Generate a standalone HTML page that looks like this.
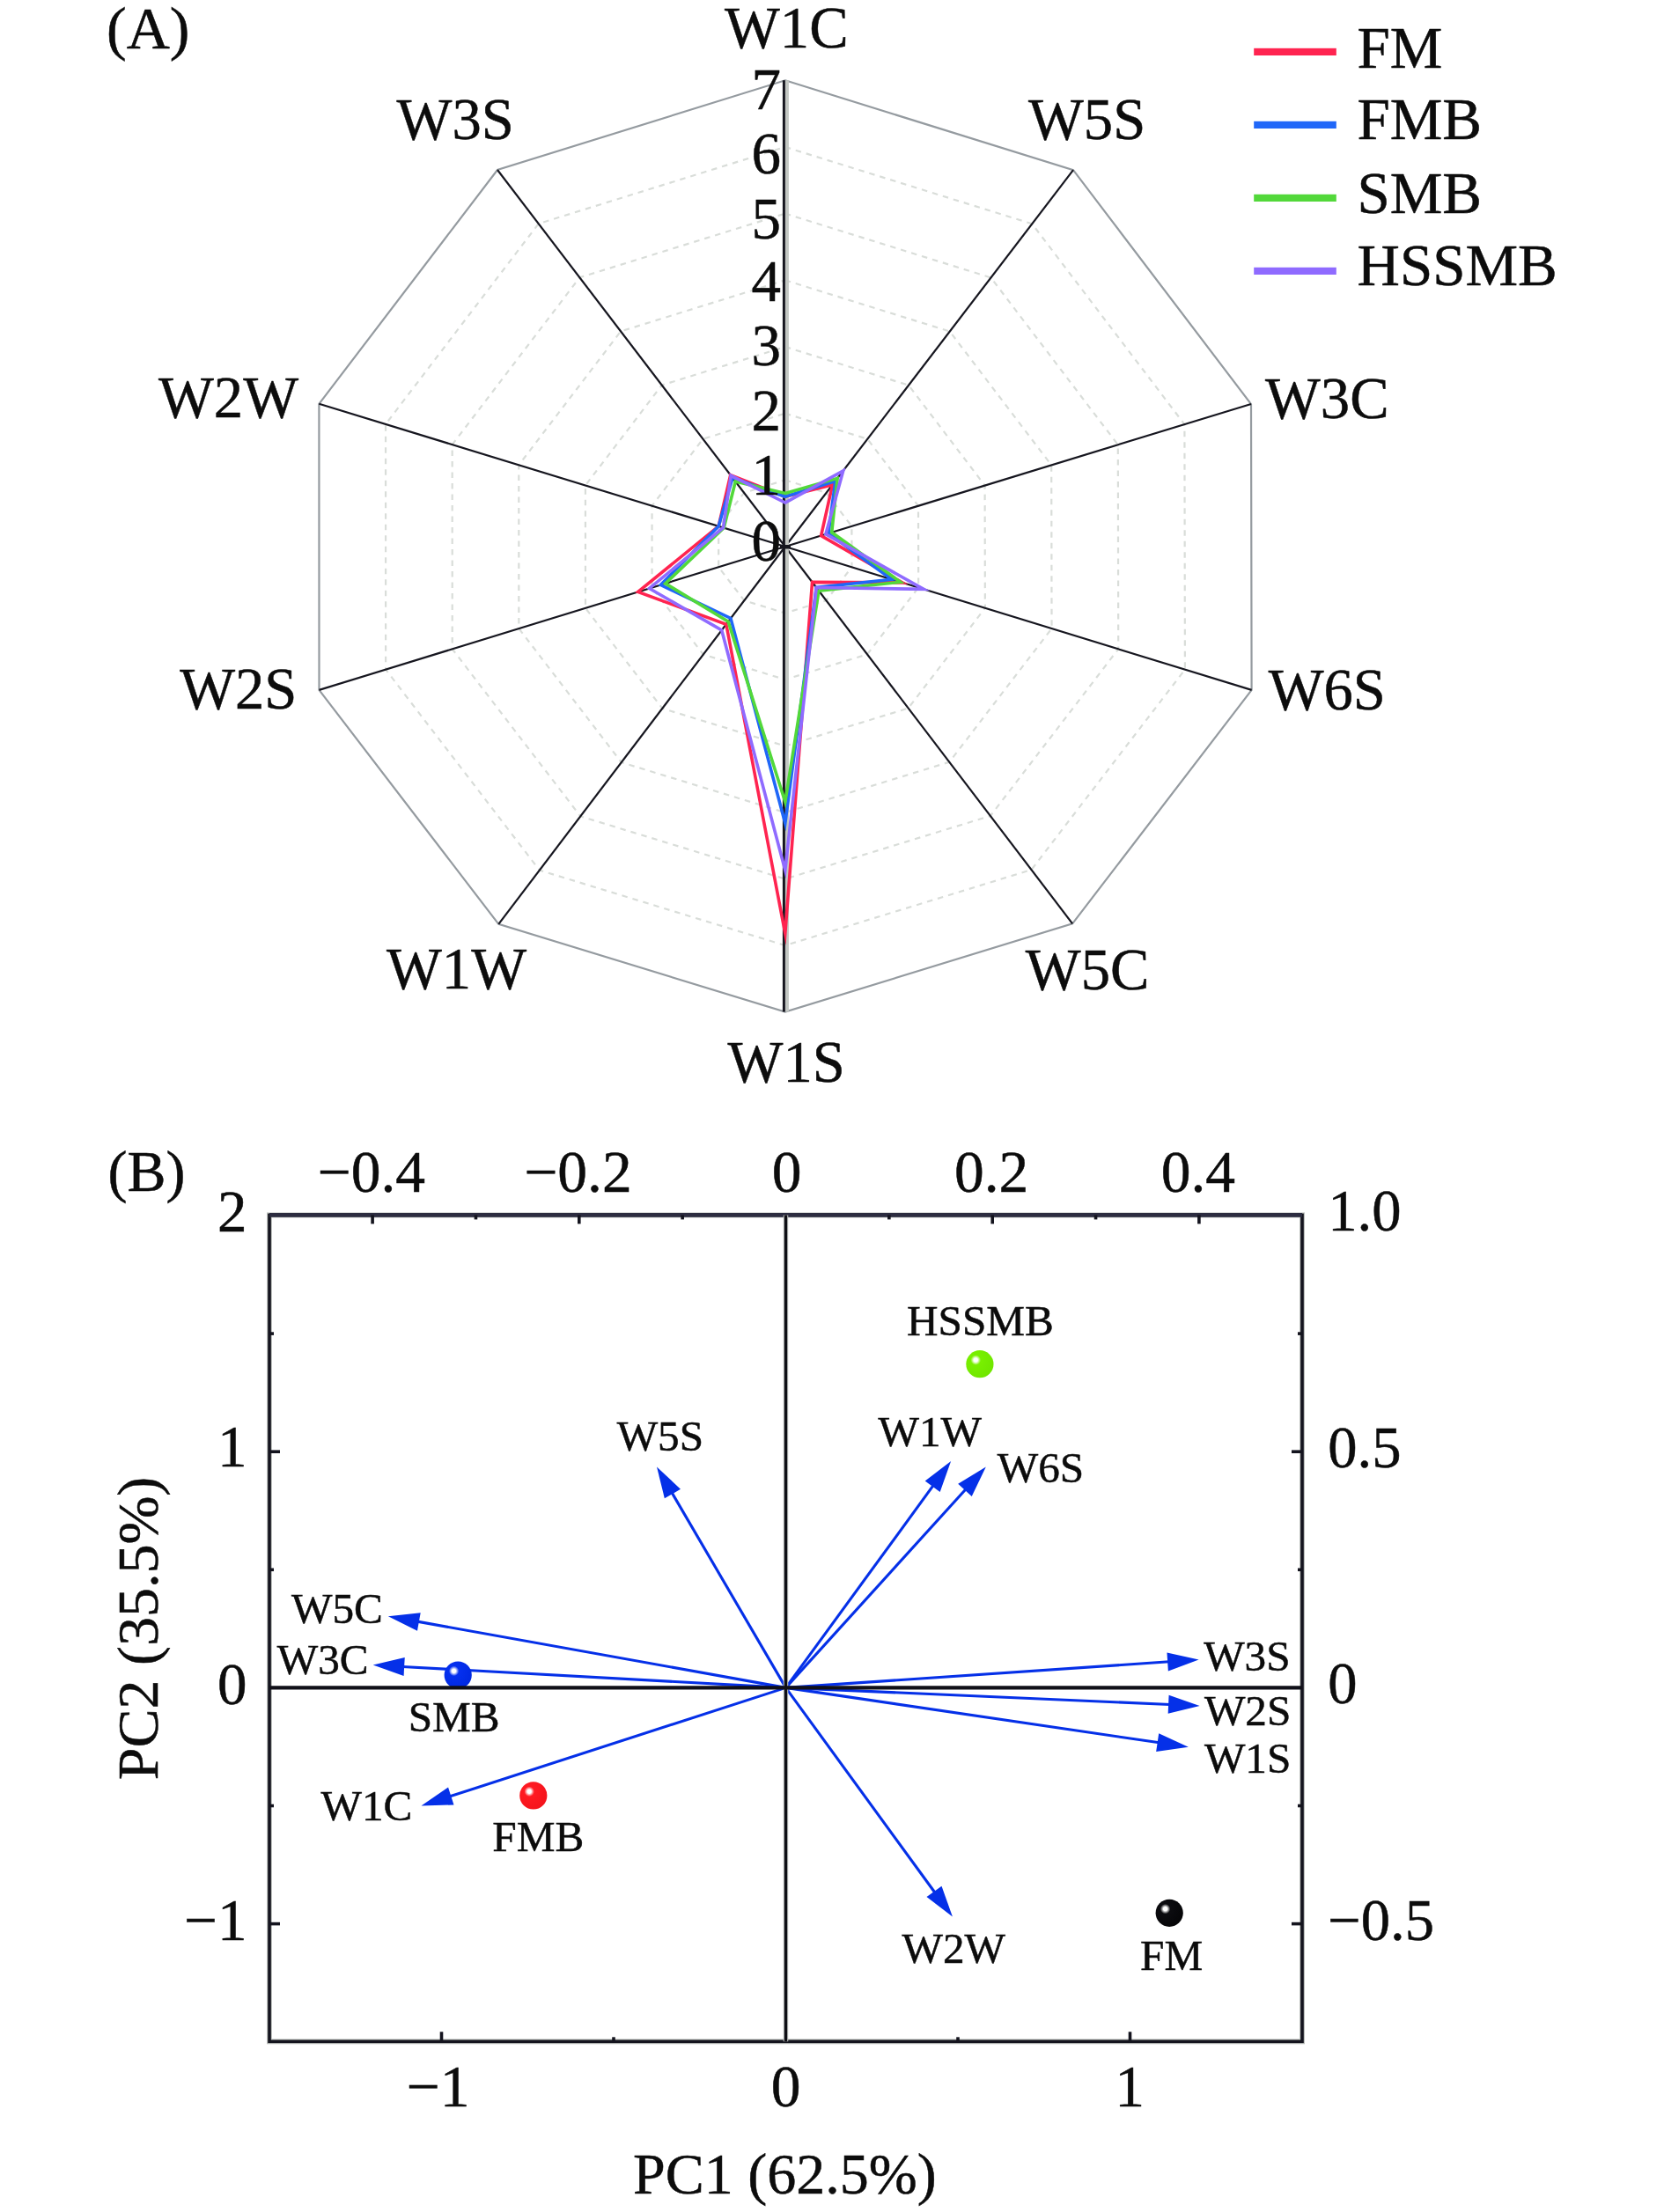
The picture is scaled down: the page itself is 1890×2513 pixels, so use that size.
<!DOCTYPE html>
<html><head><meta charset="utf-8"><title>Figure</title>
<style>html,body{margin:0;padding:0;background:#fff;overflow:hidden;}svg{display:block;}</style>
</head><body>
<svg width="1890" height="2513" viewBox="0 0 1890 2513">
<rect width="1890" height="2513" fill="#ffffff"/>
<g fill="none" stroke="#d9ddd9" stroke-width="2.2" stroke-dasharray="6.5 6">
<polygon points="891.8,545.33 938.54,559.89 967.4,597.86 967.49,644.27 938.41,682.19 891.8,696.51 845.3,682.27 816.19,644.27 816.17,597.83 845.11,559.86"/>
<polygon points="891.8,469.66 985.29,498.77 1043,574.71 1043.17,667.54 985.03,743.37 891.8,772.03 798.8,743.54 740.57,667.54 740.54,574.66 798.43,498.71"/>
<polygon points="891.8,393.99 1032.03,437.66 1118.6,551.57 1118.86,690.81 1031.64,804.56 891.8,847.54 752.3,804.81 664.96,690.81 664.91,551.49 751.74,437.57"/>
<polygon points="891.8,318.31 1078.77,376.54 1194.2,528.43 1194.54,714.09 1078.26,865.74 891.8,923.06 705.8,866.09 589.34,714.09 589.29,528.31 705.06,376.43"/>
<polygon points="891.8,242.64 1125.51,315.43 1269.8,505.29 1270.23,737.36 1124.87,926.93 891.8,998.57 659.3,927.36 513.73,737.36 513.66,505.14 658.37,315.29"/>
<polygon points="891.8,166.97 1172.26,254.31 1345.4,482.14 1345.91,760.63 1171.49,988.11 891.8,1074.09 612.8,988.63 438.11,760.63 438.03,481.97 611.69,254.14"/>
</g>
<polygon points="891.8,91.3 1219,193.2 1421,459 1421.6,783.9 1218.1,1049.3 891.8,1149.6 566.3,1049.9 362.5,783.9 362.4,458.8 565,193" fill="none" stroke="#959ba0" stroke-width="2.2"/>
<g stroke="#16161f" stroke-width="2.2">
<line x1="891.8" y1="621" x2="1219" y2="193.2"/>
<line x1="891.8" y1="621" x2="1421" y2="459"/>
<line x1="891.8" y1="621" x2="1421.6" y2="783.9"/>
<line x1="891.8" y1="621" x2="1218.1" y2="1049.3"/>
<line x1="891.8" y1="621" x2="566.3" y2="1049.9"/>
<line x1="891.8" y1="621" x2="362.5" y2="783.9"/>
<line x1="891.8" y1="621" x2="362.4" y2="458.8"/>
<line x1="891.8" y1="621" x2="565" y2="193"/>
</g>
<line x1="893.9" y1="91.3" x2="893.9" y2="1149.6" stroke="#c3c7c3" stroke-width="4"/>
<line x1="890.4" y1="91.3" x2="890.4" y2="1149.6" stroke="#16161f" stroke-width="3"/>
<rect x="886" y="619" width="12" height="4.5" fill="#16161f"/>
<polygon points="891.8,564.25 945.55,550.72 932.62,608.5 1025.01,661.96 922.57,661.38 891.8,1060.49 824.84,709.23 724.69,672.43 816.17,597.83 829.71,539.68" fill="none" stroke="#ff2450" stroke-width="3.6" stroke-linejoin="miter" stroke-miterlimit="10"/>
<polygon points="891.8,564.25 948.83,546.44 940.94,605.96 1012.9,658.23 927.23,667.5 891.8,935.14 829.95,702.49 750.4,664.52 816.17,597.83 832.04,542.74" fill="none" stroke="#2067f8" stroke-width="3.6" stroke-linejoin="miter" stroke-miterlimit="10"/>
<polygon points="891.8,560.46 951.16,543.38 944.72,604.8 1022.74,661.26 930.02,671.17 891.8,910.97 827.16,706.17 755.69,662.89 822.22,599.68 835.31,547.02" fill="none" stroke="#52d83a" stroke-width="3.6" stroke-linejoin="miter" stroke-miterlimit="10"/>
<polygon points="891.8,571.06 957.71,534.83 937.92,606.88 1049.23,669.4 927.23,667.5 891.8,988.75 819.72,715.97 737.55,668.47 821.47,599.45 830.17,540.29" fill="none" stroke="#8f6bff" stroke-width="3.6" stroke-linejoin="miter" stroke-miterlimit="10"/>
<g font-family='"Liberation Serif", "Times New Roman", serif' fill="#0c0c0c" stroke="#0c0c0c" stroke-width="0.5">
<text x="121" y="55" font-size="68">(A)</text>
<text x="823" y="53.5" font-size="66.6">W1C</text>
<text x="1168" y="157.5" font-size="66.6">W5S</text>
<text x="1437" y="474.5" font-size="66.6">W3C</text>
<text x="1440.7" y="805.5" font-size="66.6">W6S</text>
<text x="1164.8" y="1123.5" font-size="66.6">W5C</text>
<text x="826.6" y="1229" font-size="66.6">W1S</text>
<text x="439" y="1122.5" font-size="66.6">W1W</text>
<text x="204.2" y="805.3" font-size="66.6">W2S</text>
<text x="180" y="474.3" font-size="66.6">W2W</text>
<text x="450.6" y="157.5" font-size="66.6">W3S</text>
<text x="887" y="123.5" font-size="67" text-anchor="end">7</text>
<text x="887" y="196.5" font-size="67" text-anchor="end">6</text>
<text x="887" y="270.5" font-size="67" text-anchor="end">5</text>
<text x="887" y="342" font-size="67" text-anchor="end">4</text>
<text x="887" y="414.5" font-size="67" text-anchor="end">3</text>
<text x="887" y="488.5" font-size="67" text-anchor="end">2</text>
<text x="887" y="561.5" font-size="67" text-anchor="end">1</text>
<text x="887" y="637" font-size="67" text-anchor="end">0</text>
</g>
<rect x="1424.2" y="54.8" width="93.6" height="8.2" fill="#ff2450"/>
<text x="1541.5" y="77.1" font-family='"Liberation Serif", "Times New Roman", serif' font-size="67" fill="#0c0c0c" stroke="#0c0c0c" stroke-width="0.5">FM</text>
<rect x="1424.2" y="137.8" width="93.6" height="8.2" fill="#2067f8"/>
<text x="1541.5" y="158.2" font-family='"Liberation Serif", "Times New Roman", serif' font-size="67" fill="#0c0c0c" stroke="#0c0c0c" stroke-width="0.5">FMB</text>
<rect x="1424.2" y="220.8" width="93.6" height="8.2" fill="#52d83a"/>
<text x="1541.5" y="241.5" font-family='"Liberation Serif", "Times New Roman", serif' font-size="67" fill="#0c0c0c" stroke="#0c0c0c" stroke-width="0.5">SMB</text>
<rect x="1424.2" y="303.8" width="93.6" height="8.2" fill="#8f6bff"/>
<text x="1541.5" y="324.4" font-family='"Liberation Serif", "Times New Roman", serif' font-size="67" fill="#0c0c0c" stroke="#0c0c0c" stroke-width="0.5">HSSMB</text>
<rect x="306" y="1380.4" width="1173" height="938.9" fill="none" stroke="#c0c4c0" stroke-width="6"/>
<rect x="306" y="1380.4" width="1173" height="938.9" fill="none" stroke="#14141e" stroke-width="3.6"/>
<line x1="306" y1="1380.4" x2="1479" y2="1380.4" stroke="#2c2c40" stroke-width="4.6"/>
<g stroke="#14141e" stroke-width="3.6">
<line x1="501.5" y1="2319.3" x2="501.5" y2="2308.3"/>
<line x1="1283.5" y1="2319.3" x2="1283.5" y2="2308.3"/>
<line x1="697" y1="2319.3" x2="697" y2="2314.3"/>
<line x1="1088" y1="2319.3" x2="1088" y2="2314.3"/>
<line x1="423.1" y1="1380.4" x2="423.1" y2="1390.4"/>
<line x1="657.8" y1="1380.4" x2="657.8" y2="1390.4"/>
<line x1="1127.2" y1="1380.4" x2="1127.2" y2="1390.4"/>
<line x1="1361.9" y1="1380.4" x2="1361.9" y2="1390.4"/>
<line x1="540.45" y1="1380.4" x2="540.45" y2="1385.4"/>
<line x1="775.15" y1="1380.4" x2="775.15" y2="1385.4"/>
<line x1="1009.85" y1="1380.4" x2="1009.85" y2="1385.4"/>
<line x1="1244.55" y1="1380.4" x2="1244.55" y2="1385.4"/>
<line x1="306" y1="1649.2" x2="318" y2="1649.2"/>
<line x1="306" y1="2185.6" x2="318" y2="2185.6"/>
<line x1="306" y1="1515.1" x2="311" y2="1515.1"/>
<line x1="306" y1="1783.3" x2="311" y2="1783.3"/>
<line x1="306" y1="2051.5" x2="311" y2="2051.5"/>
<line x1="1479" y1="1649.2" x2="1467" y2="1649.2"/>
<line x1="1479" y1="2185.6" x2="1467" y2="2185.6"/>
<line x1="1479" y1="1515.1" x2="1474" y2="1515.1"/>
<line x1="1479" y1="1783.3" x2="1474" y2="1783.3"/>
<line x1="1479" y1="2051.5" x2="1474" y2="2051.5"/>
</g>
<line x1="892.5" y1="1917.4" x2="762.89" y2="1695.33" stroke="#0530e8" stroke-width="3.1"/>
<polygon points="746,1666.4 772.96,1691.77 754.83,1702.35" fill="#0530e8"/>
<line x1="892.5" y1="1917.4" x2="473.87" y2="1842.13" stroke="#0530e8" stroke-width="3.1"/>
<polygon points="440.9,1836.2 477.7,1832.15 473.98,1852.82" fill="#0530e8"/>
<line x1="892.5" y1="1917.4" x2="457.15" y2="1893.44" stroke="#0530e8" stroke-width="3.1"/>
<polygon points="423.7,1891.6 459.72,1883.07 458.57,1904.03" fill="#0530e8"/>
<line x1="892.5" y1="1917.4" x2="510.37" y2="2041.08" stroke="#0530e8" stroke-width="3.1"/>
<polygon points="478.5,2051.4 509.04,2030.48 515.51,2050.46" fill="#0530e8"/>
<line x1="892.5" y1="1917.4" x2="1060.36" y2="1687.17" stroke="#0530e8" stroke-width="3.1"/>
<polygon points="1080.1,1660.1 1067.67,1694.97 1050.7,1682.6" fill="#0530e8"/>
<line x1="892.5" y1="1917.4" x2="1097.3" y2="1691.42" stroke="#0530e8" stroke-width="3.1"/>
<polygon points="1119.8,1666.6 1103.74,1699.96 1088.18,1685.85" fill="#0530e8"/>
<line x1="892.5" y1="1917.4" x2="1328.18" y2="1887.77" stroke="#0530e8" stroke-width="3.1"/>
<polygon points="1361.6,1885.5 1326.89,1898.38 1325.47,1877.43" fill="#0530e8"/>
<line x1="892.5" y1="1917.4" x2="1329.13" y2="1936.44" stroke="#0530e8" stroke-width="3.1"/>
<polygon points="1362.6,1937.9 1326.68,1946.84 1327.59,1925.86" fill="#0530e8"/>
<line x1="892.5" y1="1917.4" x2="1316.66" y2="1979.82" stroke="#0530e8" stroke-width="3.1"/>
<polygon points="1349.8,1984.7 1313.15,1989.92 1316.21,1969.14" fill="#0530e8"/>
<line x1="892.5" y1="1917.4" x2="1062.19" y2="2150.52" stroke="#0530e8" stroke-width="3.1"/>
<polygon points="1081.9,2177.6 1052.52,2155.08 1069.5,2142.72" fill="#0530e8"/>
<defs>
<radialGradient id="gG" cx="0.36" cy="0.36" r="0.7" fx="0.35" fy="0.35"><stop offset="0" stop-color="#ffffff"/><stop offset="0.1" stop-color="#ffffff"/><stop offset="0.26" stop-color="#78f000"/><stop offset="1" stop-color="#70e600"/></radialGradient>
<radialGradient id="gR" cx="0.36" cy="0.36" r="0.7" fx="0.35" fy="0.35"><stop offset="0" stop-color="#ffffff"/><stop offset="0.1" stop-color="#ffffff"/><stop offset="0.26" stop-color="#ff1a22"/><stop offset="1" stop-color="#f4141c"/></radialGradient>
<radialGradient id="gB" cx="0.36" cy="0.36" r="0.7" fx="0.35" fy="0.35"><stop offset="0" stop-color="#ffffff"/><stop offset="0.1" stop-color="#ffffff"/><stop offset="0.26" stop-color="#0530f0"/><stop offset="1" stop-color="#0028e0"/></radialGradient>
<radialGradient id="gK" cx="0.36" cy="0.36" r="0.7" fx="0.35" fy="0.35"><stop offset="0" stop-color="#ffffff"/><stop offset="0.1" stop-color="#ffffff"/><stop offset="0.26" stop-color="#0c0c10"/><stop offset="1" stop-color="#050507"/></radialGradient>
</defs>
<circle cx="1112.9" cy="1549.7" r="15.6" fill="url(#gG)"/>
<circle cx="605.8" cy="2039.9" r="15.6" fill="url(#gR)"/>
<circle cx="520.2" cy="1903" r="15.6" fill="url(#gB)"/>
<circle cx="1328.2" cy="2173.3" r="15.6" fill="url(#gK)"/>
<line x1="892.5" y1="1380.4" x2="892.5" y2="2319.3" stroke="#c3c7c3" stroke-width="5.5"/>
<line x1="892.5" y1="1380.4" x2="892.5" y2="2319.3" stroke="#0e0e14" stroke-width="3.4"/>
<line x1="306" y1="1917.4" x2="1479" y2="1917.4" stroke="#101018" stroke-width="4.4"/>
<g font-family='"Liberation Serif", "Times New Roman", serif' fill="#0c0c0c" stroke="#0c0c0c" stroke-width="0.5">
<text x="122.5" y="1352.5" font-size="66">(B)</text>
<text x="700.7" y="1647.5" font-size="49.2">W5S</text>
<text x="331" y="1844.1" font-size="49.2">W5C</text>
<text x="314.8" y="1901.7" font-size="49.2">W3C</text>
<text x="463.7" y="1966.6" font-size="49.2">SMB</text>
<text x="364.6" y="2067.9" font-size="49.2">W1C</text>
<text x="559.3" y="2102.9" font-size="49.2">FMB</text>
<text x="1030" y="1516.9" font-size="49.2">HSSMB</text>
<text x="997.6" y="1643.1" font-size="49.2">W1W</text>
<text x="1132.8" y="1683.5" font-size="49.2">W6S</text>
<text x="1367.2" y="1898" font-size="49.2">W3S</text>
<text x="1367.9" y="1959.8" font-size="49.2">W2S</text>
<text x="1367.9" y="2013.5" font-size="49.2">W1S</text>
<text x="1024.6" y="2230.2" font-size="49.2">W2W</text>
<text x="1295.1" y="2238.2" font-size="49.2">FM</text>
<text x="280.5" y="1399.4" font-size="67" text-anchor="end">2</text>
<text x="280.5" y="1665.7" font-size="67" text-anchor="end">1</text>
<text x="280.5" y="1936" font-size="67" text-anchor="end">0</text>
<text x="280.5" y="2203.5" font-size="67" text-anchor="end">−1</text>
<text x="497.5" y="2393.2" font-size="67.5" text-anchor="middle">−1</text>
<text x="892.6" y="2393.2" font-size="67.5" text-anchor="middle">0</text>
<text x="1283.2" y="2393.2" font-size="67.5" text-anchor="middle">1</text>
<text x="421.8" y="1353.5" font-size="67.5" text-anchor="middle">−0.4</text>
<text x="656.5" y="1353.5" font-size="67.5" text-anchor="middle">−0.2</text>
<text x="893.6" y="1353.5" font-size="67.5" text-anchor="middle">0</text>
<text x="1126.1" y="1353.5" font-size="67.5" text-anchor="middle">0.2</text>
<text x="1360.9" y="1353.5" font-size="67.5" text-anchor="middle">0.4</text>
<text x="1508.2" y="1397.5" font-size="66.6">1.0</text>
<text x="1508.2" y="1666.5" font-size="66.6">0.5</text>
<text x="1508.2" y="1934.5" font-size="66.6">0</text>
<text x="1508.2" y="2204.2" font-size="66.6">−0.5</text>
<text x="891.3" y="2491.9" font-size="66" text-anchor="middle">PC1 (62.5%)</text>
<text transform="translate(179,1850) rotate(-90)" x="0" y="0" font-size="66" text-anchor="middle">PC2 (35.5%)</text>
</g>
</svg>
</body></html>
